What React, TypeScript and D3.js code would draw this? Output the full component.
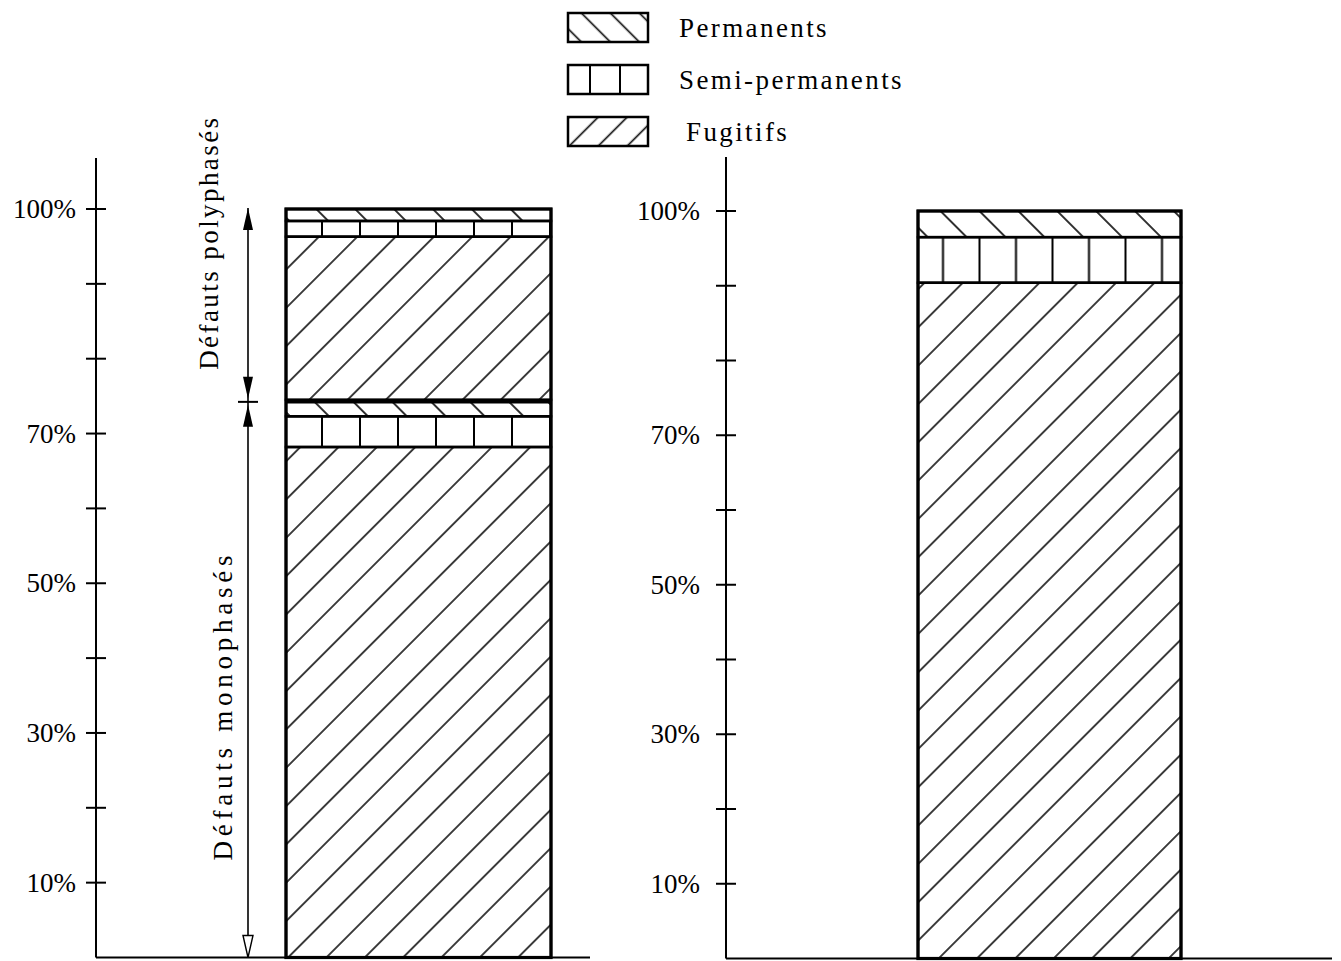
import React from 'react';
import * as d3 from 'd3';

// ---------- data ----------
const panels = ['gauche', 'droite'];
const seriesBottomToTop = ['Fugitifs', 'Semi-permanents', 'Permanents'];
const legendOrder = ['Permanents', 'Semi-permanents', 'Fugitifs'];
// left bar: monophase faults (bottom) then polyphase faults (top), values in % (Fugitifs, Semi, Permanents)
const leftMonophases = [68.2, 4.1, 2.2];
const leftPolyphases = [21.8, 2.1, 1.6];
// right bar (Fugitifs, Semi, Permanents)
const rightValues = [90.4, 6.1, 3.5];
const tickValues = [10, 20, 30, 40, 50, 60, 70, 80, 90, 100];
const labeledTicks = [10, 30, 50, 70, 100];
const groupLabels = ['Défauts monophasés', 'Défauts polyphasés'];

const W = 1341;
const H = 961;
const FONT = "'Liberation Serif', 'Times New Roman', serif";

type Seg = { series: string; y0: number; y1: number };

function stackGroups(groups: number[][]): { segs: Seg[]; splits: number[] } {
  const segs: Seg[] = [];
  const splits: number[] = [];
  let acc = 0;
  groups.forEach((g, gi) => {
    g.forEach((v, i) => {
      segs.push({ series: seriesBottomToTop[i], y0: acc, y1: acc + v });
      acc += v;
    });
    if (gi < groups.length - 1) splits.push(acc);
  });
  return { segs, splits };
}

export default function App() {
  const xBand = d3.scaleBand<string>().domain(panels).range([96, 96 + 630 * 2]).padding(0);
  const yScales: Record<string, d3.ScaleLinear<number, number>> = {
    gauche: d3.scaleLinear().domain([0, 100]).range([957.5, 209]),
    droite: d3.scaleLinear().domain([0, 100]).range([958.5, 211]),
  };
  const stacks: Record<string, { segs: Seg[]; splits: number[] }> = {
    gauche: stackGroups([leftMonophases, leftPolyphases]),
    droite: stackGroups([rightValues]),
  };
  const barOffset: Record<string, number> = { gauche: 190, droite: 192 };
  const barWidth: Record<string, number> = { gauche: 265, droite: 263 };
  const axisTop: Record<string, number> = { gauche: 158, droite: 157 };
  const baseEnd: Record<string, number> = { gauche: 590, droite: 1332 };

  const patternFor = (series: string, panel: string) =>
    series === 'Fugitifs' ? 'url(#fug)' : series === 'Permanents' ? 'url(#perm)' : `url(#semi-${panel})`;

  const legendPattern = (series: string) =>
    series === 'Fugitifs' ? 'url(#fugL)' : series === 'Permanents' ? 'url(#permL)' : 'url(#semiL)';

  const hatch = (id: string, P: number, angle: number, tx = 0, sw = 1.6) => (
    <pattern
      id={id}
      patternUnits="userSpaceOnUse"
      width={P}
      height={10}
      patternTransform={`translate(${tx},0) rotate(${angle})`}
    >
      <line x1={P / 2} y1={-2} x2={P / 2} y2={12} stroke="#000" strokeWidth={sw} />
    </pattern>
  );

  return (
    <svg width={W} height={H} style={{ position: 'absolute', left: 0, top: 0, background: '#fff' }}>
      <defs>
        {hatch('fug', 27.1, 45, 0, 1.5)}
        {hatch('perm', 27.5, -45, 10, 1.6)}
        {hatch('semi-gauche', 38, 0, 322 - 19, 2)}
        {hatch('semi-droite', 36.5, 0, 943 - 18.25, 2)}
        {hatch('fugL', 20.5, 45, 5, 1.6)}
        {hatch('permL', 20.5, -45, 3, 1.6)}
        {hatch('semiL', 30, 0, 590 - 15, 2)}
      </defs>
      <rect x={0} y={0} width={W} height={H} fill="#fff" />

      {panels.map((p) => {
        const y = yScales[p];
        const ax = xBand(p)!;
        const bx = ax + barOffset[p];
        const bw = barWidth[p];
        const { segs, splits } = stacks[p];
        return (
          <g key={p}>
            {/* axis */}
            <line x1={ax} x2={ax} y1={axisTop[p]} y2={y(0)} stroke="#000" strokeWidth={2} />
            <line x1={ax} x2={baseEnd[p]} y1={y(0)} y2={y(0)} stroke="#000" strokeWidth={2} />
            {tickValues.map((t) => (
              <line key={t} x1={ax - 10} x2={ax + 10} y1={y(t)} y2={y(t)} stroke="#000" strokeWidth={2} />
            ))}
            {labeledTicks.map((t) => (
              <text
                key={t}
                x={ax - (p === 'gauche' ? 20 : 26)}
                y={y(t) + 9}
                textAnchor="end"
                fontFamily={FONT}
                fontSize={27}
                fill="#000"
              >
                {t}%
              </text>
            ))}

            {/* bar segments */}
            {segs.map((s, i) => (
              <rect
                key={'f' + i}
                x={bx}
                y={y(s.y1)}
                width={bw}
                height={y(s.y0) - y(s.y1)}
                fill={patternFor(s.series, p)}
              />
            ))}
            {segs.map((s, i) => (
              <rect
                key={'o' + i}
                x={bx}
                y={y(s.y1)}
                width={bw}
                height={y(s.y0) - y(s.y1)}
                fill="none"
                stroke="#000"
                strokeWidth={2.5}
              />
            ))}
            <rect x={bx} y={y(100)} width={bw} height={y(0) - y(100)} fill="none" stroke="#000" strokeWidth={3.2} />
            {splits.map((sp, i) => (
              <line key={'s' + i} x1={bx} x2={bx + bw} y1={y(sp) + 1.5} y2={y(sp) + 1.5} stroke="#000" strokeWidth={4.5} />
            ))}

            {/* group annotations (left panel) */}
            {splits.length > 0 &&
              (() => {
                const axx = ax + 152;
                const sp = splits[0];
                const ys = y(sp) + 2;
                const top = y(100) - 1;
                const bot = y(0);
                const L = 22;
                const hw = 5;
                return (
                  <g>
                    <line x1={axx} x2={axx} y1={top} y2={bot} stroke="#000" strokeWidth={1.6} />
                    <line x1={axx - 10} x2={axx + 10} y1={ys} y2={ys} stroke="#000" strokeWidth={2} />
                    <path d={`M${axx},${top} L${axx - hw},${top + L} L${axx + hw},${top + L} Z`} fill="#000" />
                    <path d={`M${axx},${ys - 3} L${axx - hw},${ys - 3 - L} L${axx + hw},${ys - 3 - L} Z`} fill="#000" />
                    <path d={`M${axx},${ys + 3} L${axx - hw},${ys + 3 + L} L${axx + hw},${ys + 3 + L} Z`} fill="#000" />
                    <path
                      d={`M${axx - hw},${bot - L} L${axx},${bot} L${axx + hw},${bot - L} Z`}
                      fill="#fff"
                      stroke="#000"
                      strokeWidth={1.4}
                    />
                    <text
                      transform={`translate(${ax + 122},${ys - 32}) rotate(-90)`}
                      fontFamily={FONT}
                      fontSize={27}
                      textLength={252}
                      lengthAdjust="spacing"
                      fill="#000"
                    >
                      {groupLabels[1]}
                    </text>
                    <text
                      transform={`translate(${ax + 136},${bot - 97}) rotate(-90)`}
                      fontFamily={FONT}
                      fontSize={27}
                      textLength={305}
                      lengthAdjust="spacing"
                      fill="#000"
                    >
                      {groupLabels[0]}
                    </text>
                  </g>
                );
              })()}
          </g>
        );
      })}

      {/* legend */}
      {legendOrder.map((s, i) => {
        const ly = 13 + i * 52;
        return (
          <g key={s}>
            <rect x={568} y={ly} width={80} height={29} fill={legendPattern(s)} />
            <rect x={568} y={ly} width={80} height={29} fill="none" stroke="#000" strokeWidth={2.5} />
            <text
              x={s === 'Fugitifs' ? 686 : 679}
              y={ly + 24}
              fontFamily={FONT}
              fontSize={27}
              letterSpacing={2.4}
              fill="#000"
            >
              {s}
            </text>
          </g>
        );
      })}
    </svg>
  );
}
